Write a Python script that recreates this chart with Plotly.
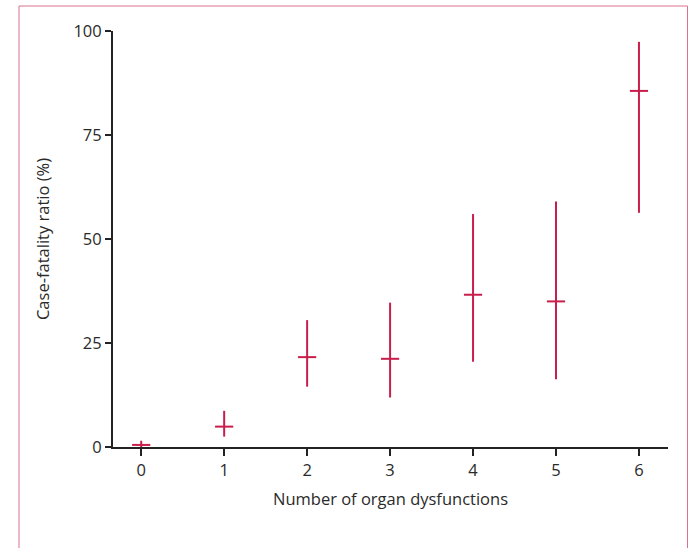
import plotly.graph_objects as go

organ_dysfunctions = [0, 1, 2, 3, 4, 5, 6]
cfr = [0.5, 4.9, 21.6, 21.2, 36.6, 35.0, 85.6]
ci_low = [0.0, 2.5, 14.5, 11.9, 20.5, 16.3, 56.3]
ci_high = [1.5, 8.7, 30.5, 34.7, 56.0, 59.0, 97.4]

err_plus = [h - v for h, v in zip(ci_high, cfr)]
err_minus = [v - l for v, l in zip(cfr, ci_low)]

red = "#c81e4b"
fig = go.Figure()
fig.add_trace(go.Scatter(
    x=organ_dysfunctions, y=cfr, mode="markers",
    marker=dict(symbol="line-ew", size=13, line=dict(color=red, width=2), color=red),
    error_y=dict(type="data", symmetric=False, array=err_plus, arrayminus=err_minus,
                 color=red, thickness=2, width=0),
    showlegend=False, cliponaxis=False,
))

L, R, T, B = 113, 27, 31, 101
W, H = 695, 548
pw, ph = W - L - R, H - T - B


def px_to_paper_x(px):
    return (px - L) / pw


def px_to_paper_y(py):
    return 1 - (py - T) / ph


fig.add_shape(type="rect", xref="paper", yref="paper",
              x0=px_to_paper_x(19), x1=px_to_paper_x(687.5),
              y0=px_to_paper_y(570), y1=px_to_paper_y(6),
              line=dict(color="#d9728c", width=1), fillcolor="rgba(0,0,0,0)", layer="below")

font_family = "Open Sans, Lato, sans-serif"
fs = 16.5
fig.update_layout(
    width=W, height=H,
    margin=dict(l=L, r=R, t=T, b=B),
    paper_bgcolor="white", plot_bgcolor="white",
    font=dict(family=font_family, size=fs, color="#2a2a2a"),
    xaxis=dict(range=[-0.34, 6.35], tickvals=organ_dysfunctions, ticks="outside", ticklen=7,
               tickwidth=2, tickcolor="#222222", showline=True, linecolor="#222222", linewidth=2,
               showgrid=False, zeroline=False, tickfont=dict(size=fs),
               title=dict(text="Number of organ dysfunctions", standoff=14,
                          font=dict(size=fs, color="#2a2a2a"))),
    yaxis=dict(range=[0, 100], tickvals=[0, 25, 50, 75, 100], ticks="outside", ticklen=6,
               tickwidth=2, tickcolor="#222222", showline=True, linecolor="#222222", linewidth=2,
               showgrid=False, zeroline=False, tickfont=dict(size=fs),
               title=dict(text="Case-fatality ratio (%)", standoff=20,
                          font=dict(size=fs, color="#2a2a2a"))),
)

fig.write_html("out.html")
